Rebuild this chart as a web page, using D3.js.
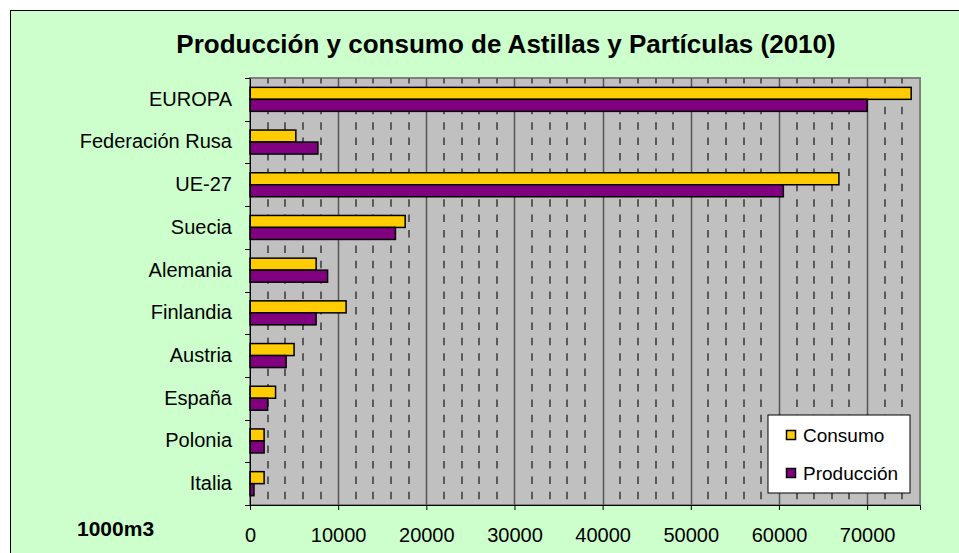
<!DOCTYPE html>
<html>
<head>
<meta charset="utf-8">
<script src="https://cdn.jsdelivr.net/npm/d3@7"></script>
<style>
  body { margin: 0; background: #fff; }
  svg { display: block; font-family: "Liberation Sans", Arial, sans-serif; }
</style>
</head>
<body>
<div id="chart"></div>
<script>
const categories = ["EUROPA", "Federación Rusa", "UE-27", "Suecia", "Alemania", "Finlandia", "Austria", "España", "Polonia", "Italia"];
const consumo = [75000, 5200, 66800, 17600, 7500, 10900, 5000, 2900, 1600, 1600];
const produccion = [70000, 7700, 60500, 16500, 8800, 7500, 4100, 2000, 1600, 450];
const seriesNames = ["Consumo", "Producción"];
const seriesColors = ["#FFCC00", "#800080"];
const xTicks = [0, 10000, 20000, 30000, 40000, 50000, 60000, 70000];

const width = 959, height = 553;
const plot = { left: 250, top: 78, right: 920, bottom: 505 };

const svg = d3.select("#chart").append("svg")
    .attr("width", width)
    .attr("height", height);

// chart area background
svg.append("rect")
    .attr("x", 10.5).attr("y", 10.5)
    .attr("width", 960).attr("height", 560)
    .attr("fill", "#CCFFCC")
    .attr("stroke", "#000").attr("stroke-width", 1);

const x = d3.scaleLinear().domain([0, 76000]).range([plot.left, plot.right]);
const y = d3.scaleBand().domain(categories).range([plot.top, plot.bottom]);

// plot area
svg.append("rect")
    .attr("x", plot.left).attr("y", plot.top)
    .attr("width", plot.right - plot.left).attr("height", plot.bottom - plot.top)
    .attr("fill", "#C0C0C0")
    .attr("stroke", "#808080").attr("stroke-width", 2);

// minor dashed gridlines
const minor = d3.range(2000, 76000, 2000).filter(v => v % 10000 !== 0);
svg.append("g").selectAll("line").data(minor).join("line")
    .attr("x1", d => Math.round(x(d))).attr("x2", d => Math.round(x(d)))
    .attr("y1", plot.top).attr("y2", plot.bottom)
    .attr("stroke", "#5a5a5a")
    .attr("stroke-width", 2)
    .attr("stroke-dasharray", "7.5,7.9")
    .attr("stroke-dashoffset", 2);

// major gridlines
svg.append("g").selectAll("line").data(xTicks.slice(1)).join("line")
    .attr("x1", d => Math.round(x(d)) + 0.5).attr("x2", d => Math.round(x(d)) + 0.5)
    .attr("y1", plot.top).attr("y2", plot.bottom)
    .attr("stroke", "#555").attr("stroke-width", 1.5);

// bars
const barH = 12;
categories.forEach((c, i) => {
    const mid = y(c) + y.bandwidth() / 2;
    [consumo[i], produccion[i]].forEach((v, s) => {
        svg.append("rect")
            .attr("x", x(0))
            .attr("y", mid - barH + s * barH)
            .attr("width", x(v) - x(0))
            .attr("height", barH)
            .attr("fill", seriesColors[s])
            .attr("stroke", "#000").attr("stroke-width", 1.5);
    });
});

// axes
const xAxis = svg.append("g")
    .attr("transform", `translate(0,${plot.bottom})`)
    .call(d3.axisBottom(x).tickValues(xTicks).tickFormat(d3.format("d")).tickSize(5));
xAxis.select(".domain").attr("stroke", "#000");
xAxis.selectAll(".tick line").attr("stroke", "#000");
xAxis.selectAll("text")
    .attr("y", 23)
    .attr("font-size", 20).attr("fill", "#000")
    .attr("font-family", "Liberation Sans, Arial, sans-serif");

const yAxis = svg.append("g")
    .attr("transform", `translate(${plot.left},0)`)
    .call(d3.axisLeft(y).tickSize(0).tickPadding(18));
yAxis.select(".domain").attr("stroke", "#000");
yAxis.selectAll("text").attr("font-size", 20).attr("fill", "#000")
    .attr("font-family", "Liberation Sans, Arial, sans-serif");

// category boundary ticks
const bounds = categories.map(c => y(c)).concat([plot.bottom]);
svg.append("g").selectAll("line").data(bounds).join("line")
    .attr("x1", plot.left - 5).attr("x2", plot.left)
    .attr("y1", d => Math.round(d) + 0.5).attr("y2", d => Math.round(d) + 0.5)
    .attr("stroke", "#000");

// title
svg.append("text")
    .attr("x", 506).attr("y", 53)
    .attr("text-anchor", "middle")
    .attr("font-size", 26).attr("font-weight", "bold")
    .text("Producción y consumo de Astillas y Partículas (2010)");

// unit label
svg.append("text")
    .attr("x", 77).attr("y", 536)
    .attr("font-size", 21).attr("font-weight", "bold")
    .text("1000m3");

// legend
const legend = svg.append("g").attr("transform", "translate(768,415)");
legend.append("rect")
    .attr("width", 142).attr("height", 78)
    .attr("fill", "#fff").attr("stroke", "#000").attr("stroke-width", 1);
seriesNames.forEach((n, i) => {
    const g = legend.append("g").attr("transform", `translate(0,${27 + i * 38})`);
    g.append("rect")
        .attr("x", 18.5).attr("y", -11.5).attr("width", 9).attr("height", 9)
        .attr("fill", seriesColors[i]).attr("stroke", "#000").attr("stroke-width", 1.5);
    g.append("text")
        .attr("x", 35).attr("y", 0)
        .attr("font-size", 19)
        .text(n);
});
</script>
</body>
</html>
